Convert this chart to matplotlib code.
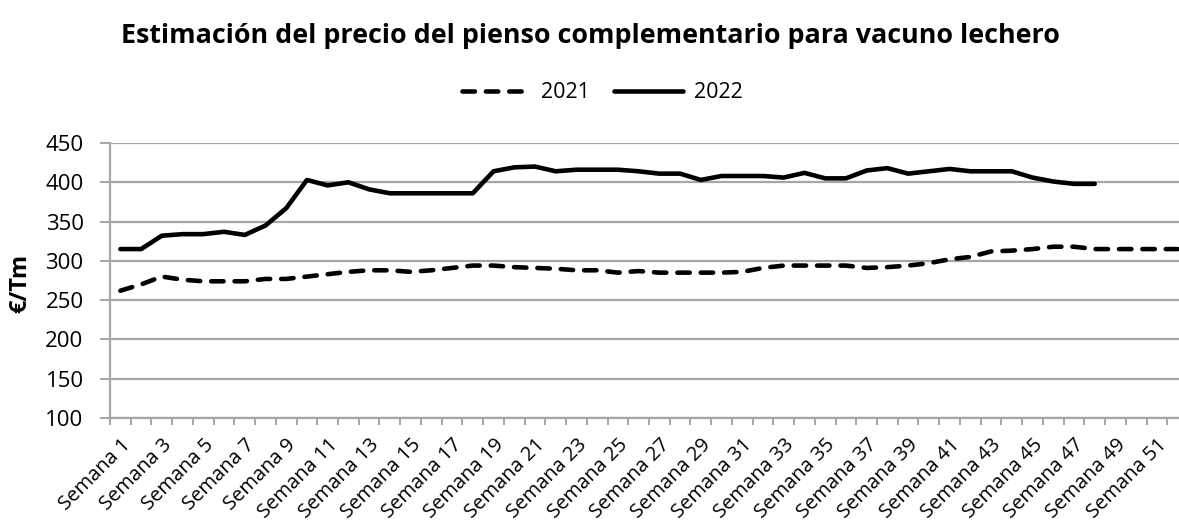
import matplotlib
matplotlib.use('Agg')
import matplotlib.pyplot as plt
import numpy as np

plt.rcParams['font.family'] = ['Open Sans', 'DejaVu Sans']

# semanas 1..52
weeks = list(range(1, 53))
week_labels = ['Semana %d' % w for w in weeks]

# precio estimado (€/Tm)
precio_2021 = [262, 270, 280, 276, 274, 274, 274, 277, 277, 280,
               283, 286, 288, 288, 286, 288, 291, 294, 294, 292,
               291, 290, 288, 288, 285, 287, 285, 285, 285, 285,
               286, 291, 294, 294, 294, 294, 291, 292, 294, 297,
               302, 305, 312, 313, 315, 318, 318, 315, 315, 315,
               315, 315]
precio_2022 = [315, 315, 332, 334, 334, 337, 333, 345, 367, 403,
               396, 400, 391, 386, 386, 386, 386, 386, 414, 419,
               420, 414, 416, 416, 416, 414, 411, 411, 403, 408,
               408, 408, 406, 412, 405, 405, 415, 418, 411, 414,
               417, 414, 414, 414, 406, 401, 398, 398]

fig = plt.figure(figsize=(11.79, 5.22), dpi=100)
# the plot area runs a bit past the right edge, like the original
ax = fig.add_axes([110 / 1179, 1 - 418 / 522, 1078 / 1179, 275 / 522])

grid_col = '#a6a6a6'
lw = 3.3
ax.plot(weeks, precio_2021, color='black', lw=lw, linestyle=(0, (2.7, 2.4)),
        dash_capstyle='round', solid_joinstyle='round', label='2021')
ax.plot(weeks[:len(precio_2022)], precio_2022, color='black', lw=lw,
        solid_capstyle='round', solid_joinstyle='round', label='2022')

ax.set_xlim(0.5, 52.5)
ax.set_ylim(100, 450)
ax.set_yticks(np.arange(100, 451, 50))
ax.yaxis.grid(True, color=grid_col, lw=1.6)
ax.set_axisbelow(True)

# tick marks between categories, labels every other week
ax.set_xticks(np.arange(0.5, 53, 1), minor=True)
ax.set_xticks(weeks[::2])
ax.set_xticklabels(week_labels[::2], rotation=45, ha='right', va='top',
                   rotation_mode='anchor', fontsize=14.5)
ax.tick_params(axis='x', which='major', length=0, pad=12)
ax.tick_params(axis='x', which='minor', length=5, width=1.4, color=grid_col)
ax.tick_params(axis='y', length=7, width=1.4, color=grid_col, labelsize=16, pad=12)

for s in ['top', 'right']:
    ax.spines[s].set_visible(False)
for s in ['left', 'bottom']:
    ax.spines[s].set_color(grid_col)
    ax.spines[s].set_linewidth(1.6)

ax.set_ylabel('€/Tm', fontsize=17, fontweight='bold')
ax.yaxis.set_label_coords(-0.072, 0.49)

fig.suptitle('Estimación del precio del pienso complementario para vacuno lechero',
             x=590 / 1179, y=1 - 36 / 522, va='center', fontsize=19.4, fontweight='bold')
fig.legend(loc='center', bbox_to_anchor=(602 / 1179, 1 - 93 / 522), ncol=2,
           frameon=False, fontsize=15.5, handlelength=3.2, columnspacing=1.1,
           handletextpad=0.5)

fig.savefig('out.png', dpi=100)
